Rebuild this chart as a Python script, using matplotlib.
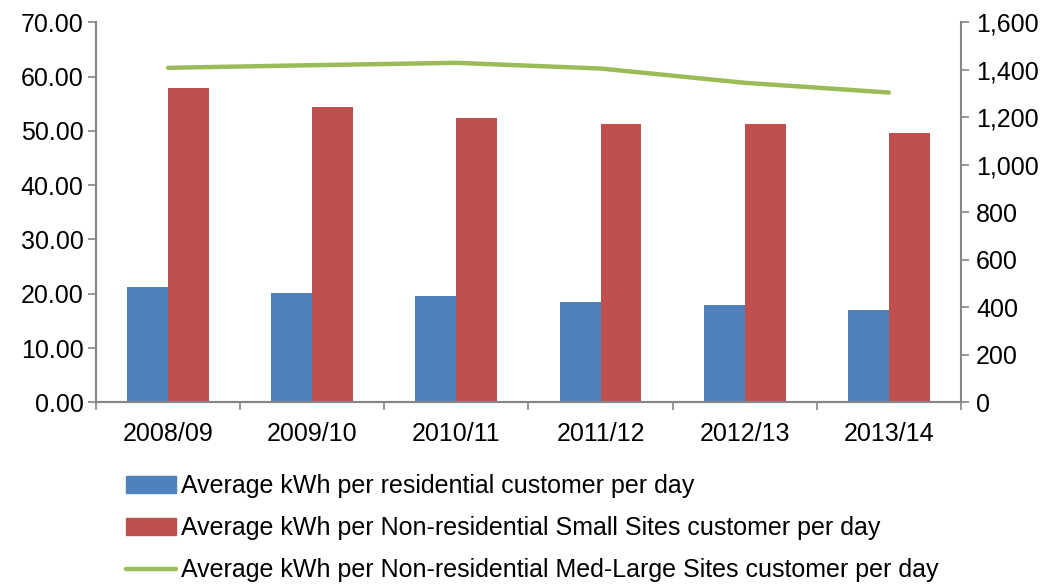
import numpy as np
import matplotlib.pyplot as plt
from matplotlib.patches import Patch
from matplotlib.lines import Line2D
from matplotlib.ticker import FuncFormatter

plt.rcParams["font.family"] = ["Liberation Sans", "DejaVu Sans"]

years = ["2008/09", "2009/10", "2010/11", "2011/12", "2012/13", "2013/14"]
residential = [21.2, 20.2, 19.5, 18.4, 17.9, 17.0]
small_sites = [57.85, 54.4, 52.3, 51.2, 51.2, 49.6]
med_large = [1408, 1419, 1429, 1405, 1345, 1304]

labels = [
    "Average kWh per residential customer per day",
    "Average kWh per Non-residential Small Sites customer per day",
    "Average kWh per Non-residential Med-Large Sites customer per day",
]
blue, red, green = "#4F81BD", "#C0504D", "#9BBB59"
gray = "#868686"
fs = 18

fig = plt.figure(figsize=(10.49, 5.84), dpi=100)
ax = fig.add_axes([0.0915, 0.311, 0.8245, 0.651])
x = np.arange(len(years))
w = 0.284
ax.bar(x - w / 2, residential, w, color=blue)
ax.bar(x + w / 2, small_sites, w, color=red)
ax.set_xlim(-0.5, len(years) - 0.5)
ax.set_ylim(0, 70)
ax.set_yticks(np.arange(0, 71, 10))
ax.yaxis.set_major_formatter(FuncFormatter(lambda v, p: f"{v:.2f}"))
ax.set_xticks(x)
ax.set_xticklabels(years)
ax.set_xticks(np.arange(-0.5, len(years), 1), minor=True)
ax.tick_params(axis="x", which="major", length=0, pad=14, labelsize=fs)
ax.tick_params(axis="x", which="minor", length=6, color=gray, width=1.2)
ax.tick_params(axis="y", length=6, color=gray, width=1.2, labelsize=fs, pad=3)

ax2 = ax.twinx()
ax2.plot(x, med_large, color=green, linewidth=3.2, solid_capstyle="round")
ax2.set_ylim(0, 1600)
ax2.set_yticks(np.arange(0, 1601, 200))
ax2.yaxis.set_major_formatter(FuncFormatter(lambda v, p: f"{int(v):,}"))
ax2.tick_params(axis="y", length=6, color=gray, width=1.2, labelsize=fs, pad=5)

for a in (ax, ax2):
    a.spines["top"].set_visible(False)
    for s in ("left", "right", "bottom"):
        a.spines[s].set_color(gray)
        a.spines[s].set_linewidth(1.5)
ax.spines["right"].set_visible(False)

handles = [
    Patch(color=blue),
    Patch(color=red),
    Line2D([0], [0], color=green, linewidth=3.2, solid_capstyle="round"),
]
fig.legend(handles, labels, loc="upper left", bbox_to_anchor=(0.108, 0.209),
           frameon=False, fontsize=fs, handlelength=2.0, handleheight=0.7,
           handletextpad=0.2, labelspacing=0.72, borderpad=0)

fig.savefig("out.png", dpi=100)
